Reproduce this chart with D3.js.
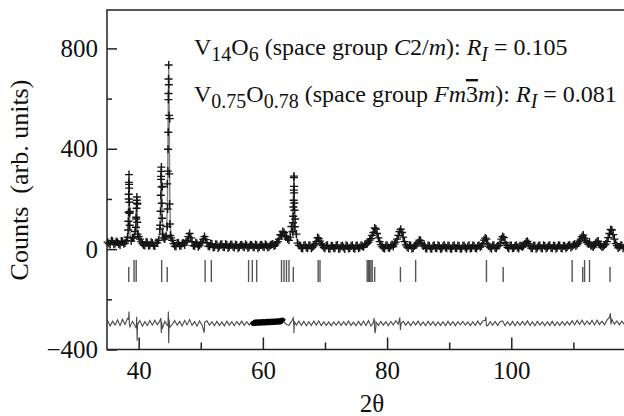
<!DOCTYPE html>
<html>
<head>
<meta charset="utf-8">
<script src="https://cdn.jsdelivr.net/npm/d3@7"></script>
<style>
  body { margin: 0; background: #fff; }
  svg { display: block; }
  svg text { font-family: "Liberation Serif", "Times New Roman", serif !important; }
</style>
</head>
<body>
<svg id="chart" width="624" height="416"></svg>
<script>
// observed counts on two interleaved 2theta grids (step 0.4)
const obsStart = 35.0, obsStart2 = 35.2, obsStep = 0.4;
const obsCounts = [
  28, 18, 31, 22, 27, 16, 30, 24, 48, 150, 45, 70, 180, 40, 22, 14, 26, 15, 24, 12,
  25, 80, 250, 40, 260, 520, 35, 12, 24, 14, 22, 16, 35, 62, 30, 12, 22, 15, 28, 50,
  26, 10, 20, 8, 18, 10, 19, 7, 16, 9, 18, 6, 15, 8, 17, 7, 14, 9, 16, 6,
  15, 8, 17, 7, 14, 9, 18, 12, 24, 40, 55, 66, 48, 35, 90, 285, 60, 15, 5, 14,
  6, 15, 4, 13, 30, 42, 22, 6, 14, 3, 12, 5, 14, 2, 11, 6, 15, 3, 12, 5,
  13, 4, 15, 8, 20, 28, 42, 66, 80, 45, 18, 5, 14, 6, 13, 10, 28, 55, 79, 48,
  17, 5, 14, 4, 16, 26, 34, 12, 4, 14, 3, 12, 5, 15, 2, 11, 6, 14, 3, 12,
  5, 14, 2, 13, 6, 11, 3, 14, 5, 12, 8, 22, 44, 20, 6, 14, 5, 13, 22, 50,
  26, 7, 14, 4, 12, 6, 14, 8, 20, 31, 12, 4, 13, 6, 14, 3, 12, 6, 15, 4,
  12, 6, 14, 3, 12, 8, 16, 10, 20, 18, 32, 50, 44, 26, 28, 12, 16, 30, 18, 8,
  16, 30, 62, 76, 40, 14, 8, 15, 6
];
const obsCounts2 = [
  22, 33, 19, 30, 20, 32, 21, 34, 200, 32,
  45, 120, 50, 30, 16, 28, 13, 27, 14, 26,
  35, 290, 45, 50, 620, 45, 22, 10, 25, 12,
  24, 28, 50, 45, 14, 26, 9, 24, 40, 38,
  12, 22, 6, 19, 5, 18, 8, 20, 5, 17,
  9, 18, 4, 16, 10, 19, 5, 17, 9, 18,
  4, 16, 10, 19, 6, 15, 20, 16, 30, 58,
  70, 52, 40, 48, 70, 120, 24, 14, 3, 16,
  4, 14, 8, 20, 46, 32, 14, 4, 15, 2,
  13, 4, 16, 3, 14, 1, 12, 5, 15, 2,
  14, 6, 12, 18, 22, 36, 55, 84, 62, 30,
  10, 3, 15, 5, 18, 20, 40, 70, 66, 30,
  9, 15, 3, 12, 20, 36, 22, 15, 3, 13,
  2, 15, 4, 12, 3, 16, 4, 13, 2, 15,
  4, 12, 3, 14, 2, 15, 5, 13, 3, 15,
  12, 36, 40, 12, 2, 15, 4, 14, 40, 46,
  16, 3, 14, 5, 15, 3, 12, 14, 28, 22,
  4, 14, 2, 13, 5, 15, 3, 13, 5, 14,
  2, 15, 5, 13, 4, 14, 6, 16, 12, 24,
  40, 56, 34, 20, 14, 8, 24, 32, 14, 10,
  20, 46, 78, 58, 22, 5, 14, 4
];
// extra observed points on the strong peaks [2theta, counts]
const obsPeaks = [
  [38.30, 76], [38.34, 111], [38.37, 147], [38.40, 219], [38.42, 266], [38.44, 297],
  [38.46, 258], [38.48, 243], [38.50, 187], [38.53, 143], [38.56, 95],
  [39.55, 87], [39.60, 127], [39.64, 163], [39.68, 195], [39.71, 208], [39.74, 183],
  [39.78, 107], [39.82, 60],
  [43.48, 95], [43.52, 151], [43.56, 215], [43.60, 278], [43.63, 310], [43.66, 327],
  [43.69, 247], [43.72, 183], [43.76, 123], [43.82, 60],
  [44.62, 90], [44.66, 160], [44.70, 311], [44.73, 398], [44.76, 466], [44.79, 596],
  [44.81, 678], [44.83, 734], [44.86, 655], [44.89, 533], [44.93, 300], [44.97, 180],
  [45.02, 100], [45.10, 55],
  [64.82, 69], [64.86, 105], [64.89, 131], [64.92, 168], [64.95, 195], [64.97, 235],
  [65.00, 291], [65.02, 250], [65.04, 224], [65.06, 184], [65.09, 155], [65.13, 89]
];
// calculated profile [2theta, counts]
const calcProfile = [
  [35, 24], [37, 23], [38.2, 30], [38.3, 60], [38.36, 150], [38.42, 285], [38.46, 280],
  [38.52, 160], [38.6, 60], [38.8, 35], [39.3, 45], [39.5, 80], [39.62, 150], [39.70, 205],
  [39.76, 170], [39.85, 80], [40.0, 40], [40.4, 24], [42, 20], [43.2, 28], [43.4, 60],
  [43.52, 160], [43.62, 310], [43.68, 320], [43.76, 170], [43.9, 70], [44.2, 45], [44.5, 70],
  [44.64, 200], [44.74, 500], [44.84, 735], [44.92, 520], [45.0, 240], [45.1, 90], [45.3, 35],
  [46, 20], [47.6, 22], [48.1, 55], [48.5, 25], [50.0, 18], [50.6, 45], [51.1, 18], [55, 12],
  [61, 12], [62.4, 30], [63.2, 60], [63.8, 50], [64.4, 50], [64.75, 100], [64.92, 220],
  [65.0, 288], [65.08, 200], [65.25, 70], [65.6, 20], [66.5, 10], [68.4, 12], [68.9, 38],
  [69.5, 12], [76.5, 10], [77.3, 35], [78.05, 80], [78.8, 25], [80.5, 10], [81.5, 25],
  [82.2, 76], [82.9, 20], [84.6, 14], [85.2, 30], [86, 10], [95.3, 10], [95.8, 40], [96.3, 10],
  [98.2, 15], [98.7, 48], [99.2, 12], [102.5, 28], [103, 10], [110.5, 12], [111.6, 50],
  [112.4, 25], [113.8, 25], [114.5, 10], [115.4, 25], [116.1, 74], [116.8, 15], [118.5, 10]
];
// difference curve (shifted by -295) on the first grid
const diffCounts = [
  -284, -306, -287, -303, -282, -305, -280, -300, -276, -310, -288, -304, -312, -285, -307, -289, -305, -284, -303, -283,
  -301, -286, -318, -288, -304, -312, -300, -285, -303, -288, -306, -284, -302, -281, -304, -289, -307, -286, -302, -310,
  -286, -303, -289, -305, -288, -304, -290, -306, -287, -303, -289, -305, -288, -302, -287, -304, -289, -303, -289, -299,
  -287, -298, -286, -297, -285, -296, -284, -295, -283, -294, -281, -290, -300, -304, -288, -309, -303, -287, -304, -288,
  -305, -289, -304, -287, -303, -286, -305, -289, -304, -290, -305, -290, -303, -288, -304, -289, -303, -287, -304, -291,
  -305, -288, -304, -287, -305, -285, -307, -292, -312, -304, -288, -303, -289, -305, -288, -302, -285, -299, -306, -288,
  -303, -289, -305, -288, -302, -287, -304, -290, -305, -288, -303, -289, -305, -290, -304, -289, -305, -288, -303, -289,
  -305, -289, -302, -288, -303, -290, -305, -289, -304, -287, -302, -286, -284, -305, -289, -303, -288, -304, -289, -286,
  -305, -289, -304, -288, -305, -289, -303, -288, -302, -286, -304, -289, -305, -288, -303, -290, -305, -289, -304, -288,
  -305, -290, -304, -288, -303, -289, -302, -286, -301, -284, -300, -283, -302, -286, -300, -284, -302, -283, -300, -287,
  -301, -283, -272, -280, -299, -286, -301, -287, -300
];
const diffSpikes = [
  [38.38, -280], [38.44, -249], [38.5, -300], [39.62, -315], [39.68, -270], [39.76, -365], [39.82, -300],
  [43.58, -275], [43.64, -334], [43.70, -290], [44.72, -300], [44.78, -249], [44.84, -375], [44.90, -280],
  [50.55, -333], [50.62, -292], [64.9, -274], [65.0, -335], [65.08, -290], [77.9, -275], [78.05, -335],
  [78.2, -290], [82.05, -273], [82.15, -322], [82.3, -295], [95.9, -270], [96.0, -305], [115.95, -256],
  [116.05, -300]
];
// Bragg reflection positions
const reflV14O6 = [39.25, 39.6, 43.7, 50.7, 51.7, 57.7, 58.3, 59.0, 63.0, 63.4, 63.8, 64.2,
  68.9, 69.2, 76.8, 77.0, 77.2, 77.4, 77.6, 84.6, 96.0, 109.8, 111.8, 112.6];
const reflVO = [38.4, 44.6, 64.9, 78.0, 82.15, 98.7, 111.5, 115.9];

const xMajor = [40, 60, 80, 100], xMinor = [50, 70, 90, 110];
const yMajor = [-400, 0, 400, 800], yMinor = [-200, 200, 600];

const svg = d3.select("#chart");
const x = d3.scaleLinear().domain([34.9, 118.15]).range([107, 624]);
const y = d3.scaleLinear().domain([-400, 953]).range([349.5, 10]);

const obs = obsCounts.map((c, i) => [obsStart + i * obsStep, c])
  .concat(obsCounts2.map((c, i) => [obsStart2 + i * obsStep, c]))
  .concat(obsPeaks);
const diff = diffCounts.map((c, i) => [obsStart + i * obsStep, c]).concat(diffSpikes)
  .sort((a, b) => a[0] - b[0]);

const plot = svg.append("g");
const line = d3.line().x(d => x(d[0])).y(d => y(d[1]));

// calculated curve
plot.append("path").datum(calcProfile)
  .attr("d", line).attr("fill", "none")
  .attr("stroke", "#808080").attr("stroke-width", 1.4);

// observed crosses
plot.selectAll(".obs").data(obs).join("path")
  .attr("class", "obs")
  .attr("transform", d => `translate(${x(d[0])},${y(d[1])})`)
  .attr("d", "M-4,0H4M0,-4V4")
  .attr("stroke", "#151515").attr("stroke-width", 1.4);

// difference curve
plot.append("path").datum(diff)
  .attr("d", line).attr("fill", "none")
  .attr("stroke", "#4a4a4a").attr("stroke-width", 1.1);
plot.append("path").datum(diff.filter(d => d[0] >= 58.2 && d[0] <= 63.6))
  .attr("d", line).attr("fill", "none")
  .attr("stroke", "#000").attr("stroke-width", 5.5).attr("stroke-linejoin", "bevel");

// reflection markers
plot.selectAll(".r1").data(reflV14O6).join("line")
  .attr("x1", d => x(d)).attr("x2", d => x(d))
  .attr("y1", 260).attr("y2", 282)
  .attr("stroke", "#555").attr("stroke-width", 1.4);
plot.selectAll(".r2").data(reflVO).join("line")
  .attr("x1", d => x(d)).attr("x2", d => x(d))
  .attr("y1", 267).attr("y2", 282)
  .attr("stroke", "#555").attr("stroke-width", 1.4);

// axes
const fs = "25px";
svg.append("g").attr("transform", "translate(107,0)")
  .call(d3.axisLeft(y).tickValues(yMajor).tickSize(-10).tickPadding(9).tickFormat(d3.format("d")));
svg.append("g").attr("transform", "translate(107,0)")
  .call(d3.axisLeft(y).tickValues(yMinor).tickSize(-5).tickFormat(""));
svg.append("g").attr("transform", "translate(0,349.5)")
  .call(d3.axisBottom(x).tickValues(xMajor).tickSize(-12).tickPadding(12));
svg.append("g").attr("transform", "translate(0,349.5)")
  .call(d3.axisBottom(x).tickValues(xMinor).tickSize(-7).tickFormat(""));
svg.selectAll(".domain").remove();
svg.selectAll(".tick line").attr("stroke", "#222").attr("stroke-width", 1.5);
svg.selectAll(".tick text").attr("font-size", fs).attr("fill", "#111");

// frame: left, top and bottom only
svg.append("path")
  .attr("d", "M624,10H107V349.5H624")
  .attr("fill", "none").attr("stroke", "#222").attr("stroke-width", 1.5);

// labels
svg.append("text")
  .attr("transform", "translate(28,180) rotate(-90)")
  .attr("text-anchor", "middle").attr("font-size", "26px").attr("fill", "#111")
  .style("white-space", "pre")
  .text("Counts  (arb. units)");
svg.append("text")
  .attr("x", 372).attr("y", 412)
  .attr("text-anchor", "middle").attr("font-size", fs).attr("fill", "#111")
  .text("2θ");

// legend text
function legendLine(yPos, parts) {
  const t = svg.append("text").attr("x", 194).attr("y", yPos)
    .attr("font-size", "24px").attr("fill", "#111").style("white-space", "pre");
  parts.forEach(p => {
    const s = t.append("tspan").text(p.t);
    if (p.i) s.attr("font-style", "italic");
    if (p.sub) s.attr("font-size", "20px").attr("dy", 6);
    if (p.up) s.attr("dy", -6);
    if (p.bar) s.style("text-decoration", "overline");
  });
}
legendLine(55, [
  { t: "V" }, { t: "14", sub: 1 }, { t: "O", up: 1 }, { t: "6", sub: 1 },
  { t: " (space group ", up: 1 }, { t: "C", i: 1 }, { t: "2/" }, { t: "m", i: 1 }, { t: "): " },
  { t: "R", i: 1 }, { t: "I", i: 1, sub: 1 }, { t: " = 0.105", up: 1 }
]);
legendLine(102, [
  { t: "V" }, { t: "0.75", sub: 1 }, { t: "O", up: 1 }, { t: "0.78", sub: 1 },
  { t: " (space group ", up: 1 }, { t: "Fm", i: 1 }, { t: "3", bar: 1 }, { t: "m", i: 1 }, { t: "): " },
  { t: "R", i: 1 }, { t: "I", i: 1, sub: 1 }, { t: " = 0.081", up: 1 }
]);
</script>
</body>
</html>
